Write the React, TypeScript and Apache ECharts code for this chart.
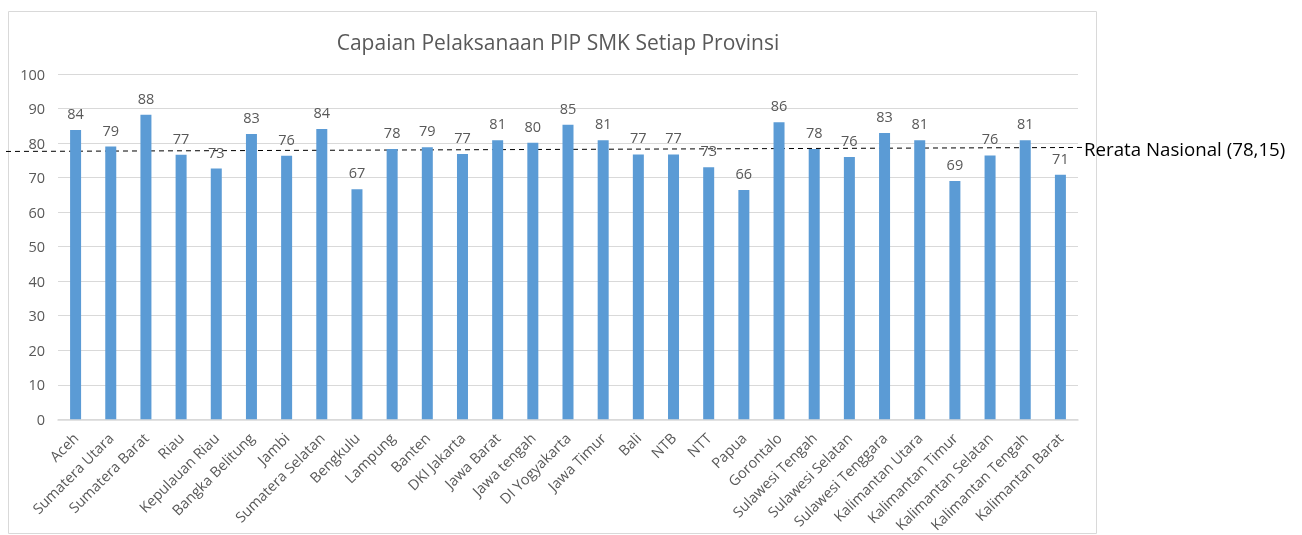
import React, { useEffect, useRef } from "react";
import * as echarts from "echarts";

const categories = [
  "Aceh", "Sumatera Utara", "Sumatera Barat", "Riau", "Kepulauan Riau", "Bangka Belitung",
  "Jambi", "Sumatera Selatan", "Bengkulu", "Lampung", "Banten", "DKI Jakarta", "Jawa Barat",
  "Jawa tengah", "DI Yogyakarta", "Jawa Timur", "Bali", "NTB", "NTT", "Papua", "Gorontalo",
  "Sulawesi Tengah", "Sulawesi Selatan", "Sulawesi Tenggara", "Kalimantan Utara",
  "Kalimantan Timur", "Kalimantan Selatan", "Kalimantan Tengah", "Kalimantan Barat",
];
const values = [
  83.8, 79.0, 88.2, 76.6, 72.6, 82.6, 76.3, 84.1, 66.6, 78.3, 78.8, 76.8, 80.8, 80.1, 85.3,
  80.8, 76.7, 76.7, 73.0, 66.4, 86.0, 78.3, 76.0, 82.9, 80.8, 69.0, 76.4, 80.8, 70.8,
];
const yTicks = [0, 10, 20, 30, 40, 50, 60, 70, 80, 90, 100];
const average = 78.15;
const averageLabel = "Rerata Nasional (78,15)";
const title = "Capaian Pelaksanaan PIP SMK Setiap Provinsi";

const FONT = "'Open Sans', sans-serif";
const GRAY = "#595959";

export default function App() {
  const ref = useRef<HTMLDivElement>(null);
  useEffect(() => {
    if (!ref.current) return;
    const chart = echarts.init(ref.current, null, { renderer: "svg" });
    chart.setOption({
      animation: false,
      textStyle: { fontFamily: FONT },
      title: {
        text: title,
        left: 553,
        top: 26,
        textAlign: "center",
        textStyle: { fontFamily: FONT, fontSize: 21, fontWeight: "normal", color: GRAY },
      },
      grid: { left: 58, right: 224, top: 74, bottom: 113, containLabel: false },
      xAxis: {
        type: "category",
        data: categories,
        axisTick: { show: false },
        axisLine: { lineStyle: { color: "#d9d9d9", width: 1.5 } },
        axisLabel: { interval: 0, rotate: 45, color: GRAY, fontSize: 14.5, fontFamily: FONT, margin: 16 },
      },
      yAxis: {
        type: "value",
        min: yTicks[0],
        max: yTicks[yTicks.length - 1],
        interval: 10,
        axisLine: { show: false },
        axisTick: { show: false },
        splitLine: { lineStyle: { color: "#d9d9d9" } },
        axisLabel: { color: GRAY, fontSize: 14.5, fontFamily: FONT, margin: 13 },
      },
      series: [
        {
          type: "bar",
          data: values,
          barWidth: 11,
          itemStyle: { color: "#5b9bd5" },
          label: {
            show: true,
            position: "top",
            distance: 9,
            color: GRAY,
            fontSize: 14.5,
            fontFamily: FONT,
            formatter: (p: any) => String(Math.round(p.value)),
          },
        },
      ],
    });
    const y = chart.convertToPixel({ yAxisIndex: 0 }, average) as number;
    chart.setOption({
      graphic: [
        {
          type: "rect",
          shape: { x: 8.5, y: 11.5, width: 1088, height: 522 },
          style: { fill: "none", stroke: "#d9d9d9", lineWidth: 1 },
          silent: true,
        },
        {
          type: "line",
          shape: { x1: 6, y1: y + 2, x2: 1083, y2: y - 2 },
          style: { stroke: "#000", lineWidth: 1, lineDash: [5, 4] },
          silent: true,
        },
        {
          type: "text",
          x: 1084,
          y: y - 1,
          style: {
            text: averageLabel,
            fontSize: 18.7,
            fontFamily: FONT,
            fill: "#000",
            verticalAlign: "middle",
            align: "left",
          },
          silent: true,
        },
      ],
    });
    return () => chart.dispose();
  }, []);
  return (
    <div
      ref={ref}
      style={{ position: "fixed", left: 0, top: 0, width: 1302, height: 535 }}
    />
  );
}
